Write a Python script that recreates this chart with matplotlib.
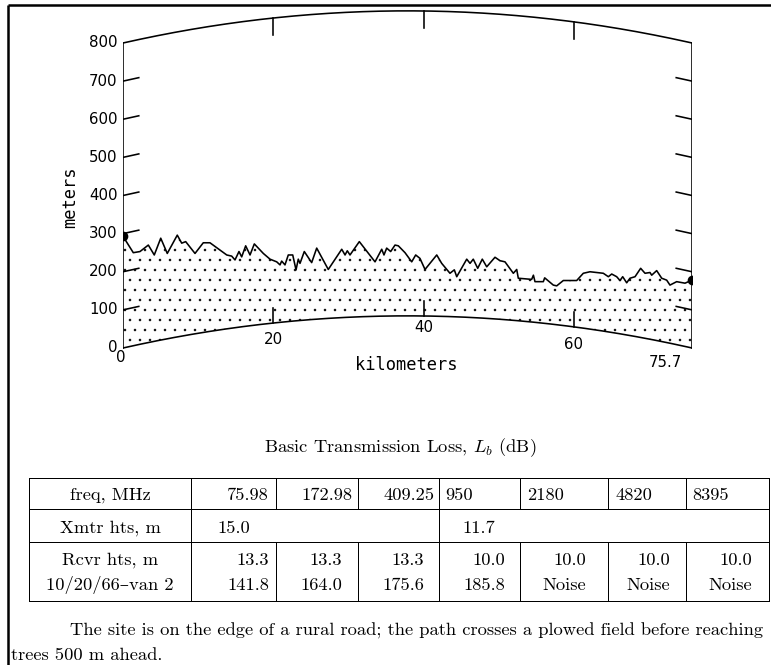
import numpy as np
import matplotlib
matplotlib.use("Agg")
import matplotlib.pyplot as plt

W, H, DPI = 771, 665, 120
PT = 72.0 / DPI  # points per pixel

# ---------------- data ----------------
path_km = 75.7
k_radius_km = 8500.0  # effective earth radius (4/3 earth)

dist_km = [0.0, 1.37, 2.26, 3.37, 4.16, 5.02, 5.89, 7.22, 7.81, 8.34,
           9.58, 10.68, 11.57, 13.80, 14.46, 14.90, 15.43, 15.79, 16.32, 16.90,
           17.47, 18.67, 19.56, 20.45, 20.89, 21.11, 21.55, 21.99, 22.58, 23.02,
           23.32, 23.55, 24.12, 25.10, 25.77, 27.31, 29.10, 29.54, 29.84, 30.20,
           31.44, 33.53, 34.42, 34.72, 35.08, 35.61, 36.19, 36.63, 37.52, 38.41,
           38.94, 39.51, 40.18, 41.74, 42.40, 43.50, 44.08, 44.40, 45.73, 46.17,
           46.60, 47.19, 47.80, 48.39, 49.49, 50.16, 50.82, 51.93, 52.38, 52.59,
           54.37, 54.60, 54.81, 55.92, 56.10, 57.25, 57.70, 58.58, 60.36, 61.24,
           62.13, 63.90, 64.57, 65.02, 65.68, 66.12, 66.48, 67.01, 67.45, 68.12,
           68.87, 69.45, 70.11, 70.34, 71.00, 71.67, 72.33, 72.77, 73.66, 74.77, 75.7]
# terrain profile as plotted (meters, above the chord of the curved-earth plot)
profile_m = [293, 250, 253, 270, 244, 288, 248, 296, 275, 279,
             248, 276, 276, 244, 241, 231, 253, 239, 268, 244,
             273, 248, 233, 226, 218, 228, 218, 244, 244, 205,
             233, 222, 253, 224, 262, 206, 259, 244, 255, 244,
             279, 226, 259, 244, 262, 253, 270, 268, 250, 226,
             244, 235, 206, 244, 222, 196, 205, 187, 233, 222,
             233, 209, 233, 213, 238, 229, 226, 196, 206, 183,
             180, 191, 174, 174, 184, 165, 163, 177, 177, 196,
             200, 196, 187, 194, 187, 177, 187, 171, 183, 187,
             209, 196, 198, 191, 203, 183, 178, 165, 174, 170, 178]

y_ticks = [0, 100, 200, 300, 400, 500, 600, 700, 800]
x_ticks = [20, 40, 60]
x_labels = ["0", "20", "40", "60", "75.7"]

table_header = ["freq, MHz", "Xmtr hts, m", "Rcvr hts, m", "10/20/66\u2013van 2"]
freq_mhz = ["75.98", "172.98", "409.25", "950", "2180", "4820", "8395"]
xmtr_hts = ["15.0", "11.7"]
rcvr_hts = ["13.3", "13.3", "13.3", "10.0", "10.0", "10.0", "10.0"]
loss_db = ["141.8", "164.0", "175.6", "185.8", "Noise", "Noise", "Noise"]

caption = r"Basic Transmission Loss, $L_b$ (dB)"
note_1 = "The site is on the edge of a rural road; the path crosses a plowed field before reaching"
note_2 = "trees 500 m ahead."

# ---------------- style ----------------
plt.rcParams["mathtext.fontset"] = "cm"
plt.rcParams["hatch.linewidth"] = 0.3
SERIF = ["cmr10", "DejaVu Serif"]
PLOT_FONT = "DejaVu Sans"
MONO = "DejaVu Sans Mono"


def bulge(x):
    x = np.asarray(x, dtype=float)
    return x * (path_km - x) * 1000.0 / (2.0 * k_radius_km)


fig = plt.figure(figsize=(W / DPI, H / DPI), dpi=DPI)

# page overlay axes in pixel coordinates (for table / text layout)
pg = fig.add_axes([0, 0, 1, 1])
pg.set_xlim(0, W)
pg.set_ylim(H, 0)
pg.axis("off")

# ---------------- profile plot ----------------
px_per_m = 0.38125
x0_px, x1_px, y0_px = 123, 692, 348
ymin, ymax = -100, 900
ax = fig.add_axes([x0_px / W, (H - (y0_px - ymin * px_per_m)) / H,
                   (x1_px - x0_px) / W, (ymax - ymin) * px_per_m / H])
ax.set_xlim(0, path_km)
ax.set_ylim(ymin, ymax)
ax.axis("off")

lw = 1.6 * PT
xc = np.linspace(0, path_km, 400)
ax.plot(xc, bulge(xc), color="black", lw=lw)
ax.plot(xc, bulge(xc) + y_ticks[-1], color="black", lw=lw)
ax.plot([0, 0], [0, y_ticks[-1]], color="black", lw=lw)
ax.plot([path_km, path_km], [0, y_ticks[-1]], color="black", lw=lw)

d = np.array(dist_km)
p = np.array(profile_m)
ax.fill_between(d, bulge(d), p, facecolor="none", edgecolor="black",
                hatch="..", linewidth=0)
ax.plot(d, p, color="black", lw=lw)
ax.plot([d[0], d[-1]], [p[0], p[-1]], "o", color="black", ms=8 * PT)

# y ticks following the earth curvature
tl = 2.1
for yt in y_ticks[1:-1]:
    ax.plot([0, tl], [yt, yt + bulge(tl)], color="black", lw=lw)
    ax.plot([path_km - tl, path_km], [yt + bulge(path_km - tl), yt], color="black", lw=lw)

for yt in y_ticks:
    ax.text(-0.7, yt, str(yt), ha="right", va="center", family=PLOT_FONT,
            fontsize=15 * PT)

# x ticks on bottom and top curves
for xt in x_ticks:
    b = float(bulge(xt))
    ax.plot([xt, xt], [b, b + 40], color="black", lw=lw)
    ax.plot([xt, xt], [b + y_ticks[-1], b + y_ticks[-1] - 45], color="black", lw=lw)

x_label_pos = [(-0.3, -26), (20, 21), (40, 55), (60, 8), (72.1, -39)]
for lab, (xx, yy) in zip(x_labels, x_label_pos):
    ax.text(xx, yy, lab, ha="center", va="center", family=PLOT_FONT,
            fontsize=15 * PT)

ax.text(37.65, -45, "kilometers", ha="center", va="center", family=MONO,
        fontsize=17 * PT)
ax.text(-7.05, 396, "meters", ha="center", va="center", rotation=90,
        family=MONO, fontsize=17 * PT)

# ---------------- page frame ----------------
pg.plot([8, 8], [5, H], color="black", lw=2.5 * PT, solid_capstyle="butt")
pg.plot([8, W], [5, 5], color="black", lw=2.5 * PT, solid_capstyle="butt")

# ---------------- caption & table ----------------
fs = 18.5 * PT
pg.text(400, 452, caption, ha="center", va="baseline", family=SERIF, fontsize=fs)

cols = [29, 191, 276, 358, 439, 520, 608, 686, 769]
rows = [478, 509, 542, 601]
tlw = 1.0 * PT
for yy in rows:
    pg.plot([cols[0], cols[-1]], [yy, yy], color="black", lw=tlw)
for i, xx in enumerate(cols):
    if i in (0, 1, 4, 8):
        pg.plot([xx, xx], [rows[0], rows[-1]], color="black", lw=tlw)
    else:
        pg.plot([xx, xx], [rows[0], rows[1]], color="black", lw=tlw)
        pg.plot([xx, xx], [rows[2], rows[3]], color="black", lw=tlw)

head_x = 110
base = [500, 533, 565, 590]
for lab, yy in zip(table_header, base):
    pg.text(head_x, yy, lab, ha="center", va="baseline", family=SERIF, fontsize=fs)

freq_x = [269, 352, 435, 445, 527, 615, 692]
freq_ha = ["right", "right", "right", "left", "left", "left", "left"]
for s, xx, ha in zip(freq_mhz, freq_x, freq_ha):
    pg.text(xx, base[0], s, ha=ha, va="baseline", family=SERIF, fontsize=fs)

for s, xx in zip(xmtr_hts, [217, 462]):
    pg.text(xx, base[1], s, ha="left", va="baseline", family=SERIF, fontsize=fs)

val_x = [269, 342, 424, 505, 586, 670, 752]
for s, xx in zip(rcvr_hts, val_x):
    pg.text(xx, base[2], s, ha="right", va="baseline", family=SERIF, fontsize=fs)
for s, xx in zip(loss_db, val_x):
    pg.text(xx, base[3], s, ha="right", va="baseline", family=SERIF, fontsize=fs)

# ---------------- note ----------------
pg.text(70, 636, note_1, ha="left", va="baseline", family=SERIF, fontsize=fs)
pg.text(11, 660, note_2, ha="left", va="baseline", family=SERIF, fontsize=fs)

fig.savefig("out.png", dpi=DPI)
